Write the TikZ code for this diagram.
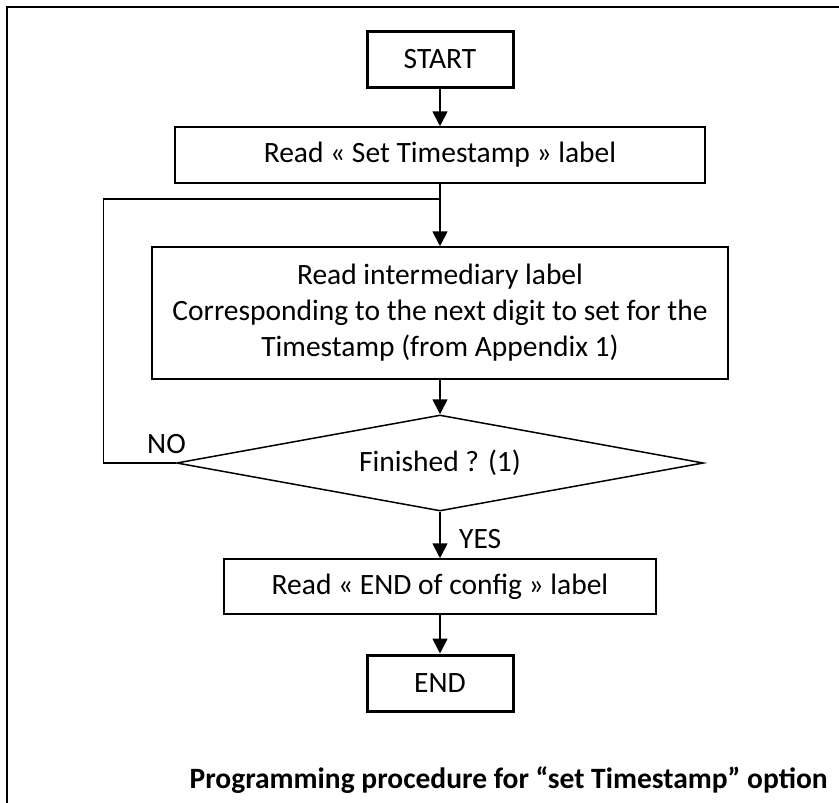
\documentclass[tikz,border=0pt]{standalone}
\usepackage{fontspec}
\setmainfont{Carlito}
\usetikzlibrary{shapes.geometric,arrows.meta}
\begin{document}
\begin{tikzpicture}[x=1pt,y=-1pt,
  txt/.style={font=\fontsize{29.5}{36}\selectfont},
  box/.style={draw,line width=1.5pt,rectangle,inner sep=0pt,txt},
  thickbox/.style={draw,line width=3pt,rectangle,inner sep=0pt,txt},
  flow/.style={line width=1.6pt,-{Triangle[length=15pt,width=15pt]}},
  lab/.style={txt,inner sep=0pt}]
\useasboundingbox (0,0) rectangle (839,803);
\clip (0,0) rectangle (839,803);
\draw[line width=2pt] (7,900) -- (7,7) -- (900,7);
\node[thickbox,minimum width=146pt,minimum height=56pt] (start) at (440,59) {START};
\node[box,minimum width=530pt,minimum height=56pt] (read) at (440,155) {Read « Set Timestamp » label};
\node[box,minimum width=576pt,minimum height=132pt,align=center] (inter) at (440,313)
  {Read intermediary label\\Corresponding to the next digit to set for the\\Timestamp (from Appendix 1)};
\node[draw,line width=1.5pt,diamond,aspect=5.5,inner sep=0pt,minimum width=527pt,minimum height=96pt,txt] (fin) at (440,463) {Finished ? (1)};
\node[box,minimum width=432pt,minimum height=55pt] (cfg) at (440,586.5) {Read « END of config » label};
\node[thickbox,minimum width=146pt,minimum height=56pt] (end) at (440,683) {END};
\coordinate (j) at (440,199);
\coordinate (lc) at (103.5,199);
\coordinate (ld) at (103.5,463);
\draw[flow] (start) -- (read);
\draw[line width=1.6pt] (read) -- (j);
\draw[flow] (j) -- (inter);
\draw[flow] (inter) -- (fin);
\draw[flow] (fin) -- (cfg);
\draw[flow] (cfg) -- (end);
\draw[line width=1.6pt] (fin.west) -- (ld) -- (lc) -- (j);
\node[lab,anchor=base west] (no) at (147,453) {NO};
\node[lab,anchor=base west] (yes) at (459,548) {YES};
\node[anchor=base east,inner sep=0pt,font=\bfseries\fontsize{29.5}{36}\selectfont] (cap) at (828,788) {Programming procedure for “set Timestamp” option};
\end{tikzpicture}
\end{document}
